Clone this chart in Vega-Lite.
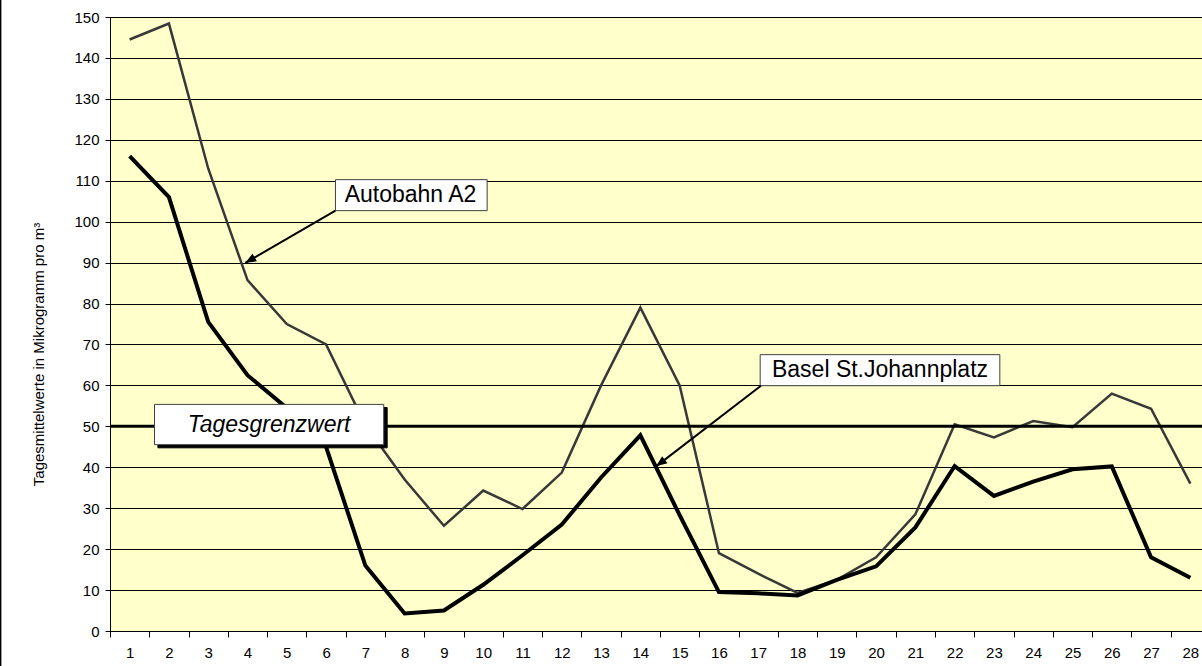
{
  "$schema": "https://vega.github.io/schema/vega-lite/v6.json",
  "width": 1092,
  "height": 614,
  "autosize": {"type": "none"},
  "padding": {"left": 110, "top": 17, "right": 0, "bottom": 35},
  "background": "#FFFFFF",
  "config": {
    "font": "Liberation Sans",
    "view": {"fill": "#FFFFCC", "stroke": "#808080", "strokeWidth": 1}
  },
  "datasets": {
    "series": [
      {"day": 1, "value": 144.5, "station": "Autobahn A2"},
      {"day": 2, "value": 148.4, "station": "Autobahn A2"},
      {"day": 3, "value": 113, "station": "Autobahn A2"},
      {"day": 4, "value": 85.7, "station": "Autobahn A2"},
      {"day": 5, "value": 75, "station": "Autobahn A2"},
      {"day": 6, "value": 70, "station": "Autobahn A2"},
      {"day": 7, "value": 50.3, "station": "Autobahn A2"},
      {"day": 8, "value": 37, "station": "Autobahn A2"},
      {"day": 9, "value": 25.7, "station": "Autobahn A2"},
      {"day": 10, "value": 34.3, "station": "Autobahn A2"},
      {"day": 11, "value": 29.8, "station": "Autobahn A2"},
      {"day": 12, "value": 38.7, "station": "Autobahn A2"},
      {"day": 13, "value": 60, "station": "Autobahn A2"},
      {"day": 14, "value": 79, "station": "Autobahn A2"},
      {"day": 15, "value": 60, "station": "Autobahn A2"},
      {"day": 16, "value": 19, "station": "Autobahn A2"},
      {"day": 17, "value": 14, "station": "Autobahn A2"},
      {"day": 18, "value": 9.3, "station": "Autobahn A2"},
      {"day": 19, "value": 12.5, "station": "Autobahn A2"},
      {"day": 20, "value": 18, "station": "Autobahn A2"},
      {"day": 21, "value": 28.5, "station": "Autobahn A2"},
      {"day": 22, "value": 50.5, "station": "Autobahn A2"},
      {"day": 23, "value": 47.3, "station": "Autobahn A2"},
      {"day": 24, "value": 51.3, "station": "Autobahn A2"},
      {"day": 25, "value": 49.8, "station": "Autobahn A2"},
      {"day": 26, "value": 58, "station": "Autobahn A2"},
      {"day": 27, "value": 54.3, "station": "Autobahn A2"},
      {"day": 28, "value": 36, "station": "Autobahn A2"},
      {"day": 1, "value": 116, "station": "Basel St.Johannplatz"},
      {"day": 2, "value": 106, "station": "Basel St.Johannplatz"},
      {"day": 3, "value": 75.5, "station": "Basel St.Johannplatz"},
      {"day": 4, "value": 62.5, "station": "Basel St.Johannplatz"},
      {"day": 5, "value": 54.5, "station": "Basel St.Johannplatz"},
      {"day": 6, "value": 45, "station": "Basel St.Johannplatz"},
      {"day": 7, "value": 16, "station": "Basel St.Johannplatz"},
      {"day": 8, "value": 4.3, "station": "Basel St.Johannplatz"},
      {"day": 9, "value": 5, "station": "Basel St.Johannplatz"},
      {"day": 10, "value": 11.3, "station": "Basel St.Johannplatz"},
      {"day": 11, "value": 18.5, "station": "Basel St.Johannplatz"},
      {"day": 12, "value": 26, "station": "Basel St.Johannplatz"},
      {"day": 13, "value": 37.5, "station": "Basel St.Johannplatz"},
      {"day": 14, "value": 47.8, "station": "Basel St.Johannplatz"},
      {"day": 15, "value": 28.3, "station": "Basel St.Johannplatz"},
      {"day": 16, "value": 9.5, "station": "Basel St.Johannplatz"},
      {"day": 17, "value": 9.2, "station": "Basel St.Johannplatz"},
      {"day": 18, "value": 8.7, "station": "Basel St.Johannplatz"},
      {"day": 19, "value": 12.5, "station": "Basel St.Johannplatz"},
      {"day": 20, "value": 15.8, "station": "Basel St.Johannplatz"},
      {"day": 21, "value": 25.3, "station": "Basel St.Johannplatz"},
      {"day": 22, "value": 40.3, "station": "Basel St.Johannplatz"},
      {"day": 23, "value": 33, "station": "Basel St.Johannplatz"},
      {"day": 24, "value": 36.5, "station": "Basel St.Johannplatz"},
      {"day": 25, "value": 39.5, "station": "Basel St.Johannplatz"},
      {"day": 26, "value": 40.2, "station": "Basel St.Johannplatz"},
      {"day": 27, "value": 18, "station": "Basel St.Johannplatz"},
      {"day": 28, "value": 13, "station": "Basel St.Johannplatz"}
    ],
    "threshold": [
      {"x": 0.5, "x2": 28.5, "value": 50}
    ],
    "frame": [
      {"x": -2.29, "y": -9, "y2": 155}
    ],
    "boxes": [
      {"name": "Tagesgrenzwert", "kind": "shadow", "x": 1.72, "x2": 7.555, "y": 54.6, "y2": 44.75},
      {"name": "Tagesgrenzwert", "kind": "box", "x": 1.633, "x2": 7.468, "y": 55.36, "y2": 45.52},
      {"name": "Autobahn A2", "kind": "box", "x": 6.239, "x2": 10.1, "y": 110.26, "y2": 102.69},
      {"name": "Basel St.Johannplatz", "kind": "box", "x": 17.05, "x2": 23.15, "y": 67.51, "y2": 59.93}
    ],
    "labels": [
      {"text": "Tagesgrenzwert", "x": 4.55, "y": 50.4, "style": "italic"},
      {"text": "Autobahn A2", "x": 8.15, "y": 106.48, "style": "normal"},
      {"text": "Basel St.Johannplatz", "x": 20.1, "y": 63.72, "style": "normal"}
    ],
    "arrows": [
      {"label": "Autobahn A2", "x": 6.239, "y": 102.69, "x2": 3.941, "y2": 89.91, "angle": 240},
      {"label": "Basel St.Johannplatz", "x": 17.07, "y": 59.93, "x2": 14.4, "y2": 40.22, "angle": 232.5}
    ]
  },
  "layer": [
    {
      "data": {"name": "series"},
      "mark": {"type": "line", "strokeJoin": "miter"},
      "encoding": {
        "x": {
          "field": "day", "type": "ordinal",
          "scale": {"range": [0, 1100], "paddingInner": 0, "paddingOuter": 0},
          "axis": {
            "title": null, "labelAngle": 0, "tickBand": "extent",
            "domainColor": "#000000", "domainWidth": 1,
            "tickColor": "#000000", "tickSize": 6, "tickWidth": 1,
            "labelFontSize": 15, "labelColor": "#000000", "labelPadding": 8,
            "labelFont": "Liberation Sans"
          }
        },
        "y": {
          "field": "value", "type": "quantitative",
          "scale": {"domain": [0, 150], "nice": false},
          "axis": {
            "values": [0, 10, 20, 30, 40, 50, 60, 70, 80, 90, 100, 110, 120, 130, 140, 150],
            "title": "Tagesmittelwerte in Mikrogramm pro m³",
            "titleFontSize": 15, "titleFontWeight": "normal", "titleColor": "#000000",
            "titleFont": "Liberation Sans",
            "titleX": -72, "titleY": 337, "titleAngle": -90, "titleAlign": "center", "titleBaseline": "middle",
            "grid": true, "gridColor": "#000000", "gridWidth": 1, "gridOpacity": 1,
            "domainColor": "#000000", "domainWidth": 1,
            "tickColor": "#000000", "tickSize": 5, "tickWidth": 1,
            "labelFontSize": 15, "labelColor": "#000000", "labelPadding": 6,
            "labelFont": "Liberation Sans"
          }
        },
        "stroke": {
          "field": "station", "type": "nominal",
          "scale": {"domain": ["Autobahn A2", "Basel St.Johannplatz"], "range": ["#383838", "#000000"]},
          "legend": null
        },
        "strokeWidth": {
          "field": "station", "type": "nominal",
          "scale": {"domain": ["Autobahn A2", "Basel St.Johannplatz"], "range": [2.5, 4]},
          "legend": null
        }
      }
    },
    {
      "data": {"name": "threshold"},
      "mark": {"type": "rule", "color": "#000000", "strokeWidth": 3},
      "encoding": {
        "x": {"field": "x", "type": "quantitative", "scale": {"domain": [0.5, 28.5], "range": [0, 1100]}, "axis": null},
        "x2": {"field": "x2"},
        "y": {"field": "value", "type": "quantitative"}
      }
    },
    {
      "data": {"name": "frame"},
      "mark": {"type": "rule", "color": "#000000", "strokeWidth": 2, "clip": false},
      "encoding": {
        "x": {"field": "x", "type": "quantitative", "scale": {"domain": [0.5, 28.5], "range": [0, 1100]}, "axis": null},
        "y": {"field": "y", "type": "quantitative"},
        "y2": {"field": "y2"}
      }
    },
    {
      "data": {"name": "boxes"},
      "mark": {"type": "rect", "strokeWidth": 1},
      "encoding": {
        "x": {"field": "x", "type": "quantitative", "scale": {"domain": [0.5, 28.5], "range": [0, 1100]}, "axis": null},
        "x2": {"field": "x2"},
        "y": {"field": "y", "type": "quantitative"},
        "y2": {"field": "y2"},
        "fill": {"field": "kind", "type": "nominal", "scale": {"domain": ["shadow", "box"], "range": ["#000000", "#FFFFFF"]}, "legend": null},
        "stroke": {"field": "kind", "type": "nominal", "scale": {"domain": ["shadow", "box"], "range": ["#000000", "#404040"]}, "legend": null}
      }
    },
    {
      "data": {"name": "arrows"},
      "mark": {"type": "rule", "color": "#000000", "strokeWidth": 2},
      "encoding": {
        "x": {"field": "x", "type": "quantitative", "scale": {"domain": [0.5, 28.5], "range": [0, 1100]}, "axis": null},
        "x2": {"field": "x2"},
        "y": {"field": "y", "type": "quantitative"},
        "y2": {"field": "y2"}
      }
    },
    {
      "data": {"name": "arrows"},
      "mark": {"type": "point", "shape": "M0,0L-0.4,1L0.4,1Z", "filled": true, "color": "#000000", "opacity": 1, "size": 484},
      "encoding": {
        "x": {"field": "x2", "type": "quantitative", "scale": {"domain": [0.5, 28.5], "range": [0, 1100]}, "axis": null},
        "y": {"field": "y2", "type": "quantitative"},
        "angle": {"field": "angle", "type": "quantitative", "scale": null}
      }
    },
    {
      "data": {"name": "labels"},
      "transform": [{"filter": "datum.style === 'normal'"}],
      "mark": {"type": "text", "fontSize": 23, "color": "#000000", "align": "center", "baseline": "middle", "font": "Liberation Sans"},
      "encoding": {
        "x": {"field": "x", "type": "quantitative", "scale": {"domain": [0.5, 28.5], "range": [0, 1100]}, "axis": null},
        "y": {"field": "y", "type": "quantitative"},
        "text": {"field": "text"}
      }
    },
    {
      "data": {"name": "labels"},
      "transform": [{"filter": "datum.style === 'italic'"}],
      "mark": {"type": "text", "fontSize": 23, "fontStyle": "italic", "color": "#000000", "align": "center", "baseline": "middle", "font": "Liberation Sans"},
      "encoding": {
        "x": {"field": "x", "type": "quantitative", "scale": {"domain": [0.5, 28.5], "range": [0, 1100]}, "axis": null},
        "y": {"field": "y", "type": "quantitative"},
        "text": {"field": "text"}
      }
    }
  ],
  "resolve": {"scale": {"x": "independent", "stroke": "independent", "fill": "independent"}}
}
